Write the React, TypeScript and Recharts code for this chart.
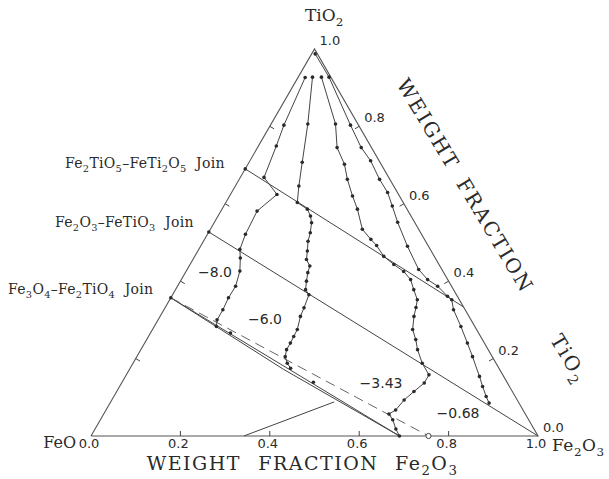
import React from 'react'
import { ScatterChart, Scatter, XAxis, YAxis } from 'recharts'

// compositions as [Fe2O3, TiO2] weight fractions (FeO is the rest)
const triangle = [[0, 0], [1, 0], [0, 1], [0, 0]]

const joinSpinel = [[0, 0.357], [0.69, 0]]
const joinSpinelLower = [[0, 0.357], [0.345, 0.172], [0.69, 0]]
const joinIlmenite = [[0, 0.527], [1, 0]]
const joinPseudobrookite = [[0, 0.69], [0.6665, 0.3335]]
const dashedBoundary = [[0, 0.357], [0.755, 0]]
const tieLine = [[0.342, 0], [0.5, 0.088]]
const joinEnds = [[0, 0.357], [0, 0.527], [0, 0.69]]
const spinelPoints = [[0.179, 0.266], [0.428, 0.139]]
const openPoint = [[0.755, 0]]

// log fO2 isobars
const isobarM80 = [
  [0.016, 0.926], [0.03, 0.803], [0.04, 0.749], [0.053, 0.668], [0.104, 0.624],
  [0.081, 0.581], [0.085, 0.521], [0.092, 0.482], [0.104, 0.46], [0.12, 0.426],
  [0.13, 0.387], [0.129, 0.357], [0.132, 0.326], [0.132, 0.3], [0.139, 0.283],
]
const isobarM60 = [
  [0.032, 0.927], [0.082, 0.806], [0.119, 0.707], [0.142, 0.646], [0.16, 0.603],
  [0.191, 0.586], [0.207, 0.568], [0.218, 0.551], [0.228, 0.525], [0.234, 0.503],
  [0.245, 0.478], [0.254, 0.456], [0.27, 0.439], [0.274, 0.422], [0.282, 0.4],
  [0.291, 0.378], [0.305, 0.365], [0.311, 0.331], [0.314, 0.309], [0.324, 0.275],
  [0.325, 0.257], [0.326, 0.24], [0.326, 0.223], [0.332, 0.205], [0.345, 0.188],
  [0.359, 0.175],
]
const isobarM343 = [
  [0.052, 0.927], [0.144, 0.806], [0.178, 0.745], [0.216, 0.702], [0.242, 0.663],
  [0.275, 0.62], [0.303, 0.586], [0.34, 0.534], [0.372, 0.508], [0.393, 0.492],
  [0.423, 0.464], [0.456, 0.443], [0.487, 0.425], [0.513, 0.404], [0.533, 0.378],
  [0.554, 0.352], [0.561, 0.332], [0.568, 0.309], [0.582, 0.275], [0.602, 0.249],
  [0.619, 0.223], [0.647, 0.188], [0.677, 0.158], [0.677, 0.137], [0.665, 0.115],
  [0.654, 0.093], [0.648, 0.067], [0.638, 0.057], [0.654, 0.042], [0.673, 0.018],
  [0.69, 0],
]
const isobarM068 = [
  [0.008, 0.987], [0.069, 0.927], [0.179, 0.803], [0.232, 0.745], [0.27, 0.711],
  [0.314, 0.663], [0.349, 0.629], [0.377, 0.594], [0.41, 0.552], [0.463, 0.49],
  [0.518, 0.43], [0.551, 0.404], [0.582, 0.387], [0.617, 0.361], [0.631, 0.352],
  [0.648, 0.326], [0.686, 0.283], [0.722, 0.24], [0.751, 0.205], [0.792, 0.154],
  [0.812, 0.128], [0.833, 0.102], [0.848, 0.085],
]

const tickValues = [0, 0.2, 0.4, 0.6, 0.8, 1.0]
const tickLabels = ['0.0', '0.2', '0.4', '0.6', '0.8', '1.0']
const innerTicks = [0.2, 0.4, 0.6, 0.8]

const W = 609
const H = 479
const INK = '#2a2a2a'
const LINE = '#444'

const toXY = ([fe2o3, tio2]: number[]) => ({ x: fe2o3 + tio2 / 2, y: tio2 })
const pts = (arr: number[][]) => arr.map(toXY)

const baseLabelData = tickValues.map((v, i) => ({ ...toXY([v, 0]), label: tickLabels[i] }))
const rightLabelData = tickValues.map((v, i) => ({ ...toXY([1 - v, v]), label: tickLabels[i] }))
const baseTickData = innerTicks.map((v) => toXY([v, 0]))
const leftTickData = innerTicks.map((v) => toXY([0, v]))
const rightTickData = innerTicks.map((v) => toXY([1 - v, v]))

const Dot = (p: any) => <circle cx={p.cx} cy={p.cy} r={1.8} fill={INK} />
const NoDot = () => <g />
const Ring = (p: any) => <circle cx={p.cx} cy={p.cy} r={2.6} fill="#fff" stroke={LINE} strokeWidth={1} />
const tick = (dx: number, dy: number) => (p: any) => (
  <line x1={p.cx} y1={p.cy} x2={p.cx + dx} y2={p.cy + dy} stroke={LINE} strokeWidth={1} />
)
const tickText = (dx: number, dy: number, anchor: string) => (p: any) => (
  <text x={p.cx + dx} y={p.cy + dy} textAnchor={anchor} fontFamily="DejaVu Sans" fontSize={13} fill={INK}>
    {p.payload.label}
  </text>
)

function chem(text: string, size: number) {
  const parts = text.split(/(_\d)/).filter(Boolean)
  let low = false
  return parts.map((s, i) => {
    if (s[0] === '_') {
      const el = (
        <tspan key={i} dy={low ? 0 : size * 0.28} fontSize={size * 0.7}>
          {s.slice(1)}
        </tspan>
      )
      low = true
      return el
    }
    const el = (
      <tspan key={i} dy={low ? -size * 0.28 : 0}>
        {s}
      </tspan>
    )
    low = false
    return el
  })
}

const serif = 'DejaVu Serif'
const sans = 'DejaVu Sans'

function Labels() {
  const title = { fontFamily: serif, fontSize: 19, fill: INK, letterSpacing: 1.5 }
  const side = { fontFamily: serif, fontSize: 20, fill: INK, letterSpacing: 2 }
  const join = { fontFamily: serif, fontSize: 14, fill: INK, letterSpacing: 0.3 }
  const iso = { fontFamily: sans, fontSize: 14, fill: INK, textAnchor: 'middle' as const }
  return (
    <svg width={W} height={H} style={{ position: 'absolute', left: 0, top: 0, pointerEvents: 'none' }}>
      <text x={305} y={21} fontFamily={serif} fontSize={17} fill={INK}>{chem('TiO_2', 17)}</text>
      <text x={76} y={448} textAnchor="end" fontFamily={serif} fontSize={16} fill={INK}>FeO</text>
      <text x={552} y={451} fontFamily={serif} fontSize={17} fill={INK} letterSpacing={0.5}>{chem('Fe_2O_3', 17)}</text>

      <text x={146.7} y={470} {...title}>WEIGHT</text>
      <text x={258.3} y={470} {...title}>FRACTION</text>
      <text x={395} y={470} {...title}>{chem('Fe_2O_3', 19)}</text>

      <g transform="translate(396 84) rotate(59)">
        <text x={0} y={0} {...side}>WEIGHT</text>
        <text x={116} y={0} {...side}>FRACTION</text>
        <text x={298} y={0} {...side}>{chem('TiO_2', 20)}</text>
      </g>

      <text x={65} y={168} {...join} xmlSpace="preserve">{chem('Fe_2TiO_5–FeTi_2O_5  Join', 14)}</text>
      <text x={55} y={227} {...join} xmlSpace="preserve">{chem('Fe_2O_3–FeTiO_3  Join', 14)}</text>
      <text x={8} y={294} {...join} xmlSpace="preserve">{chem('Fe_3O_4–Fe_2TiO_4  Join', 14)}</text>

      <text x={215} y={277} {...iso}>−8.0</text>
      <text x={265} y={324} {...iso}>−6.0</text>
      <text x={381} y={388} {...iso}>−3.43</text>
      <text x={458} y={418} {...iso}>−0.68</text>
    </svg>
  )
}

export default function App() {
  return (
    <div style={{ position: 'absolute', left: 0, top: 0, width: W, height: H, background: '#fff' }}>
      <ScatterChart width={W} height={H} margin={{ top: 0, right: 0, bottom: 0, left: 0 }}>
        <XAxis type="number" dataKey="x" domain={[-0.2036, 1.1588]} allowDataOverflow hide />
        <YAxis type="number" dataKey="y" domain={[-0.1111, 1.1263]} allowDataOverflow hide />

        <Scatter data={pts(triangle)} line={{ stroke: '#555', strokeWidth: 1.1 }} shape={NoDot} isAnimationActive={false} />
        <Scatter data={pts(joinPseudobrookite)} line={{ stroke: LINE, strokeWidth: 1 }} shape={NoDot} isAnimationActive={false} />
        <Scatter data={pts(joinIlmenite)} line={{ stroke: LINE, strokeWidth: 1 }} shape={NoDot} isAnimationActive={false} />
        <Scatter data={pts(joinSpinel)} line={{ stroke: LINE, strokeWidth: 1 }} shape={NoDot} isAnimationActive={false} />
        <Scatter data={pts(joinSpinelLower)} line={{ stroke: LINE, strokeWidth: 1 }} shape={NoDot} isAnimationActive={false} />
        <Scatter data={pts(dashedBoundary)} line={{ stroke: '#666', strokeWidth: 1, strokeDasharray: '10 6' }} shape={NoDot} isAnimationActive={false} />
        <Scatter data={pts(tieLine)} line={{ stroke: LINE, strokeWidth: 1 }} shape={NoDot} isAnimationActive={false} />

        <Scatter data={pts(isobarM80)} line={{ stroke: LINE, strokeWidth: 1 }} shape={Dot} isAnimationActive={false} />
        <Scatter data={pts(isobarM60)} line={{ stroke: LINE, strokeWidth: 1 }} shape={Dot} isAnimationActive={false} />
        <Scatter data={pts(isobarM343)} line={{ stroke: LINE, strokeWidth: 1 }} shape={Dot} isAnimationActive={false} />
        <Scatter data={pts(isobarM068)} line={{ stroke: LINE, strokeWidth: 1 }} shape={Dot} isAnimationActive={false} />

        <Scatter data={pts(joinEnds)} shape={Dot} isAnimationActive={false} />
        <Scatter data={pts(spinelPoints)} shape={Dot} isAnimationActive={false} />
        <Scatter data={pts(openPoint)} shape={Ring} isAnimationActive={false} />

        <Scatter data={baseTickData} shape={tick(0, -5)} isAnimationActive={false} />
        <Scatter data={leftTickData} shape={tick(4.3, 2.5)} isAnimationActive={false} />
        <Scatter data={rightTickData} shape={tick(-4.3, 2.5)} isAnimationActive={false} />
        <Scatter data={baseLabelData} shape={tickText(-2, 12, 'middle')} isAnimationActive={false} />
        <Scatter data={rightLabelData} shape={tickText(5, -4, 'start')} isAnimationActive={false} />
      </ScatterChart>
      <Labels />
    </div>
  )
}
